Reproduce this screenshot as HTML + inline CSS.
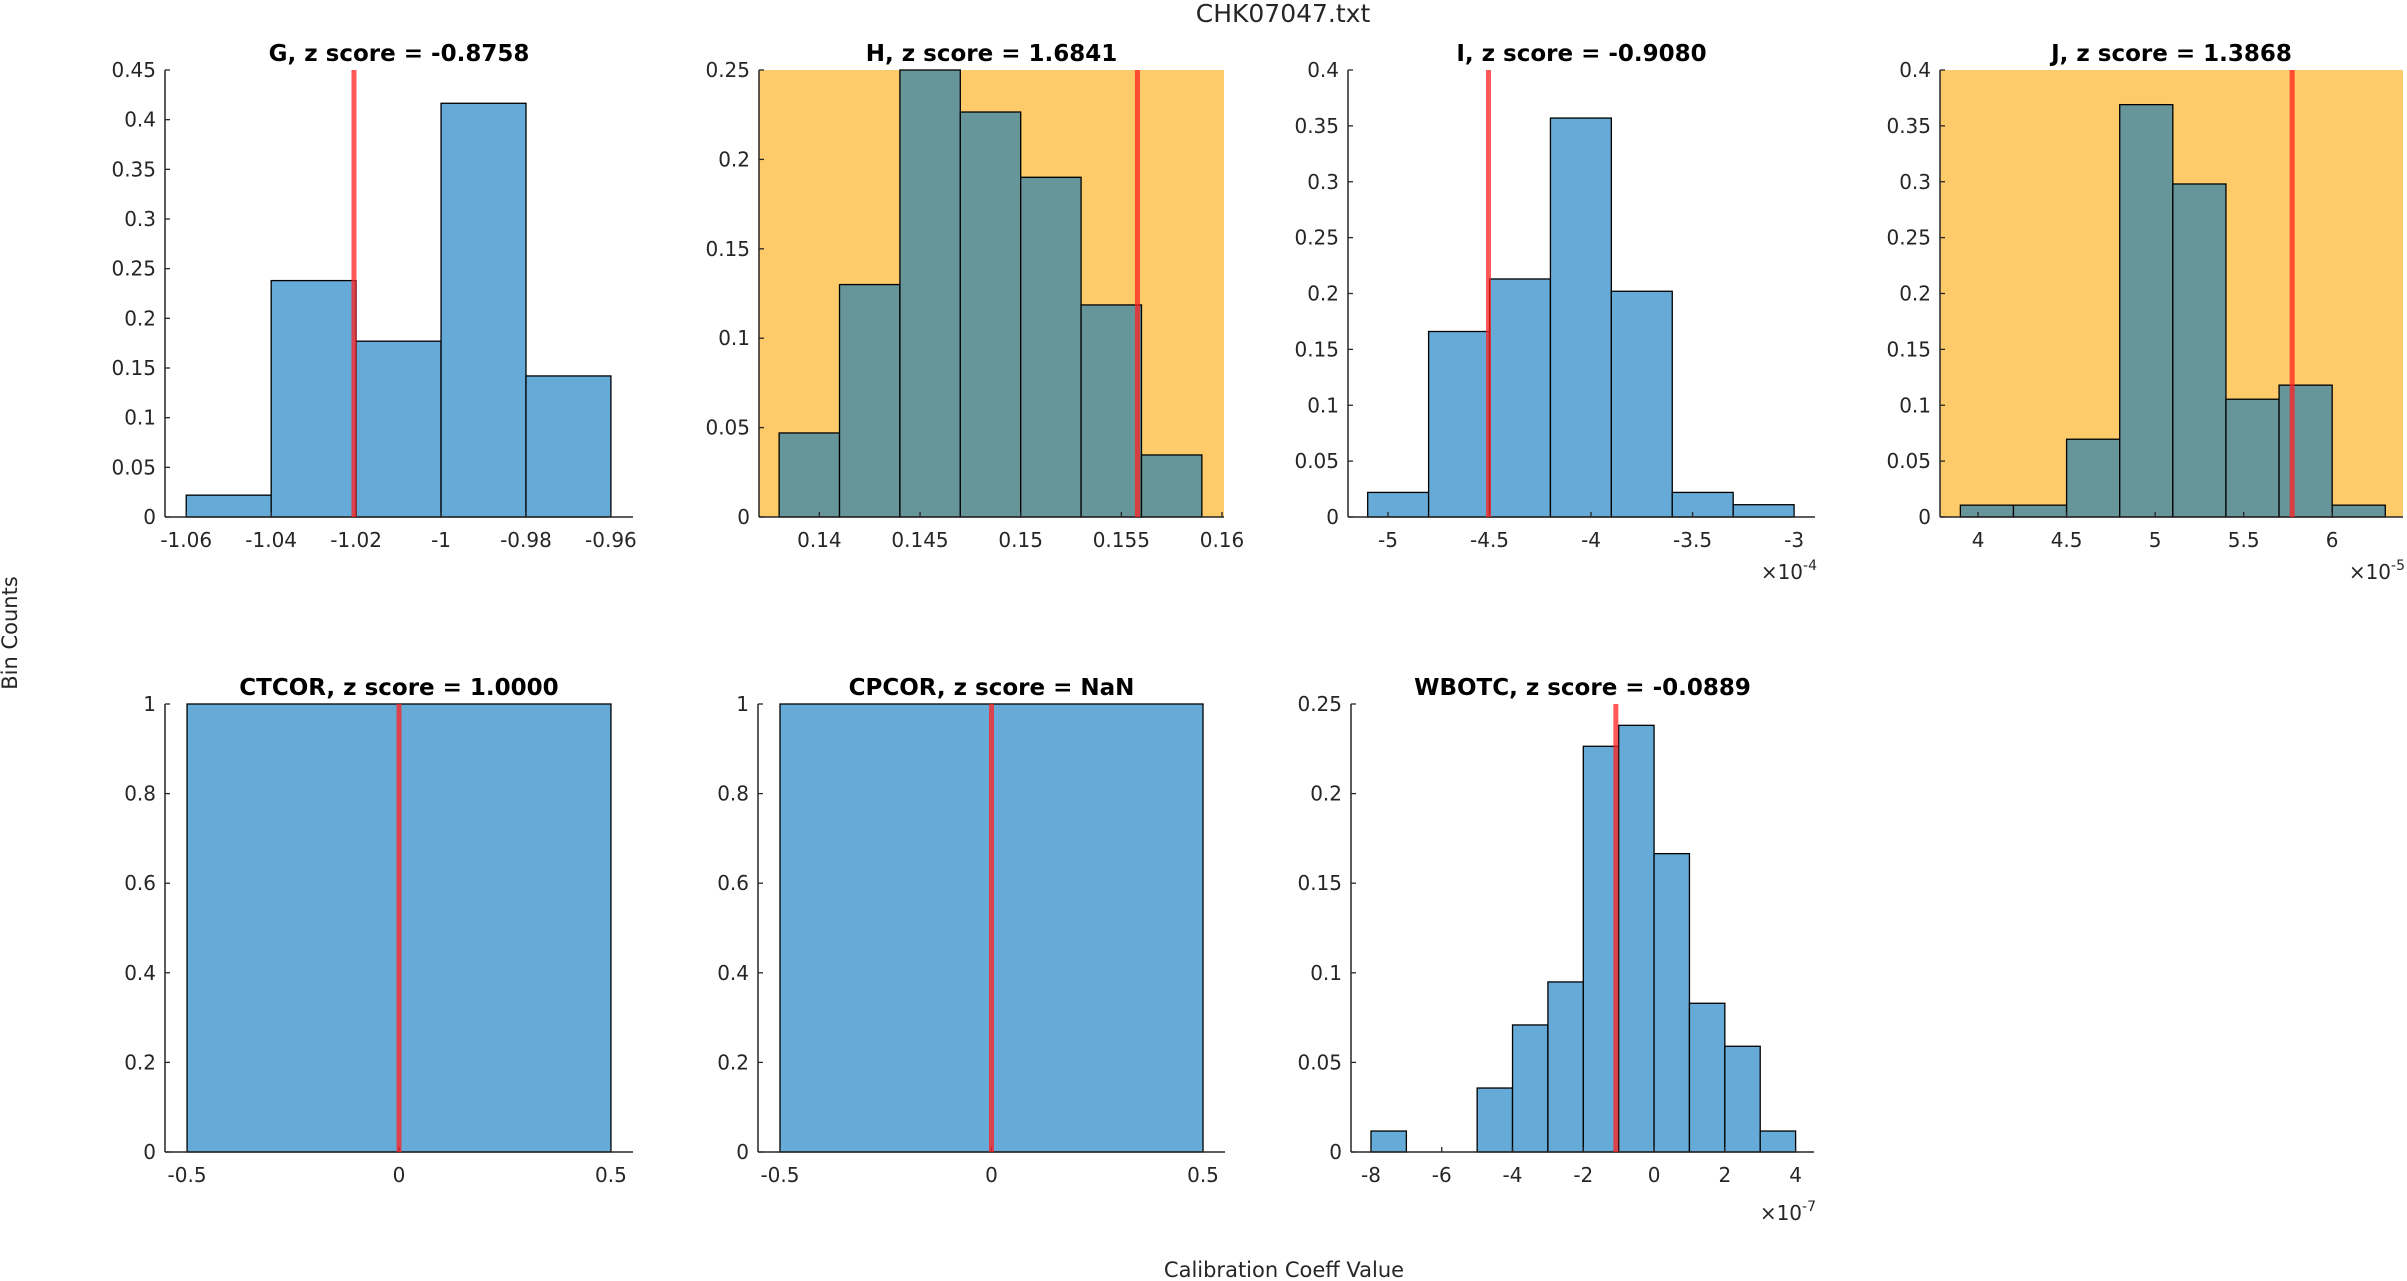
<!DOCTYPE html>
<html><head><meta charset="utf-8"><style>
html,body{margin:0;padding:0;background:#fff;}
svg{display:block;font-family:"DejaVu Sans","Liberation Sans",sans-serif;}
</style></head><body>
<svg id="fig" width="2407" height="1281" viewBox="0 0 2407 1281" xmlns="http://www.w3.org/2000/svg">
<text x="1283" y="22" font-size="25" fill="#262626" text-anchor="middle">CHK07047.txt</text>
<text x="0" y="0" font-size="21" fill="#262626" text-anchor="middle" transform="translate(17,633) rotate(-90)">Bin Counts</text>
<text x="1284" y="1277" font-size="21" fill="#262626" text-anchor="middle">Calibration Coeff Value</text>
</svg>
<script>
// ---- data ----
const gEdges = [-1.06,-1.04,-1.02,-1.00,-0.98,-0.96];
const gValues = [0.022,0.238,0.177,0.4165,0.142];
const gXTicks = [-1.06,-1.04,-1.02,-1,-0.98,-0.96];
const gXTickLabels = ["-1.06","-1.04","-1.02","-1","-0.98","-0.96"];
const gYTicks = [0,0.05,0.1,0.15,0.2,0.25,0.3,0.35,0.4,0.45];

const hEdges = [0.138,0.141,0.144,0.147,0.150,0.153,0.156,0.159];
const hValues = [0.047,0.130,0.25,0.2265,0.190,0.1186,0.0347];
const hXTicks = [0.14,0.145,0.15,0.155,0.16];
const hXTickLabels = ["0.14","0.145","0.15","0.155","0.16"];
const hYTicks = [0,0.05,0.1,0.15,0.2,0.25];

const iEdges = [-5.1,-4.8,-4.5,-4.2,-3.9,-3.6,-3.3,-3.0];
const iValues = [0.022,0.166,0.213,0.357,0.202,0.022,0.011];
const iXTicks = [-5,-4.5,-4,-3.5,-3];
const iXTickLabels = ["-5","-4.5","-4","-3.5","-3"];
const iYTicks = [0,0.05,0.1,0.15,0.2,0.25,0.3,0.35,0.4];

const jEdges = [3.9,4.2,4.5,4.8,5.1,5.4,5.7,6.0,6.3];
const jValues = [0.0106,0.0106,0.0696,0.369,0.298,0.1054,0.118,0.0106];
const jXTicks = [4,4.5,5,5.5,6];
const jXTickLabels = ["4","4.5","5","5.5","6"];
const jYTicks = [0,0.05,0.1,0.15,0.2,0.25,0.3,0.35,0.4];

const ctEdges = [-0.5,0.5];
const ctValues = [1];
const cpEdges = [-0.5,0.5];
const cpValues = [1];
const unitXTicks = [-0.5,0,0.5];
const unitXTickLabels = ["-0.5","0","0.5"];
const unitYTicks = [0,0.2,0.4,0.6,0.8,1];

const wEdges = [-8,-7,-6,-5,-4,-3,-2,-1,0,1,2,3,4];
const wValues = [0.0117,0,0,0.0357,0.0709,0.0949,0.2264,0.2381,0.1665,0.083,0.059,0.0117];
const wXTicks = [-8,-6,-4,-2,0,2,4];
const wXTickLabels = ["-8","-6","-4","-2","0","2","4"];
const wYTicks = [0,0.05,0.1,0.15,0.2,0.25];

const panels = [
 {id:"g",title:"G, z score = -0.8758",left:165,right:633,top:70,bottom:517,xmin:-1.065,xmax:-0.9548,ymax:0.45,edges:gEdges,values:gValues,xt:gXTicks,xl:gXTickLabels,yt:gYTicks,marker:-1.0205,flag:false,exp:null},
 {id:"h",title:"H, z score = 1.6841",left:759,right:1224,top:70,bottom:517,xmin:0.137,xmax:0.1601,ymax:0.25,edges:hEdges,values:hValues,xt:hXTicks,xl:hXTickLabels,yt:hYTicks,marker:0.1558,flag:true,exp:null},
 {id:"i",title:"I, z score = -0.9080",left:1348,right:1815,top:70,bottom:517,xmin:-5.197,xmax:-2.897,ymax:0.4,edges:iEdges,values:iValues,xt:iXTicks,xl:iXTickLabels,yt:iYTicks,marker:-4.505,flag:false,exp:"-4",expY:579},
 {id:"j",title:"J, z score = 1.3868",left:1940,right:2403,top:70,bottom:517,xmin:3.785,xmax:6.40,ymax:0.4,edges:jEdges,values:jValues,xt:jXTicks,xl:jXTickLabels,yt:jYTicks,marker:5.774,flag:true,exp:"-5",expY:579},
 {id:"ctcor",title:"CTCOR, z score = 1.0000",left:165,right:633,top:704,bottom:1152,xmin:-0.552,xmax:0.552,ymax:1,edges:ctEdges,values:ctValues,xt:unitXTicks,xl:unitXTickLabels,yt:unitYTicks,marker:0,flag:false,exp:null},
 {id:"cpcor",title:"CPCOR, z score = NaN",left:758,right:1225,top:704,bottom:1152,xmin:-0.552,xmax:0.552,ymax:1,edges:cpEdges,values:cpValues,xt:unitXTicks,xl:unitXTickLabels,yt:unitYTicks,marker:0,flag:false,exp:null},
 {id:"wbotc",title:"WBOTC, z score = -0.0889",left:1351,right:1814,top:704,bottom:1152,xmin:-8.565,xmax:4.52,ymax:0.25,edges:wEdges,values:wValues,xt:wXTicks,xl:wXTickLabels,yt:wYTicks,marker:-1.08,flag:false,exp:"-7",expY:1220}
];

const NS="http://www.w3.org/2000/svg";
const fig=document.getElementById('fig');
function mk(tag,attrs,parent){const e=document.createElementNS(NS,tag);for(const k in attrs)e.setAttribute(k,attrs[k]);(parent||fig).appendChild(e);return e;}
function fmtY(v){return String(Math.round(v*1000)/1000);}

panels.forEach(p=>{
  const g=mk('g',{});
  
  
  const sx=v=>p.left+(v-p.xmin)/(p.xmax-p.xmin)*(p.right-p.left);
  const sy=v=>p.bottom-v/p.ymax*(p.bottom-p.top);
  if(p.flag){
    const bg=mk('rect',{x:p.left,y:p.top,width:p.right-p.left,height:p.bottom-p.top,fill:'#fecb6a'},g);
    
    
  }
  const fill=p.flag?'#66969a':'#66aad7';
  p.values.forEach((v,k)=>{
    const x0=sx(p.edges[k]),x1=sx(p.edges[k+1]),y=sy(v);
    const r=mk('rect',{x:x0,y:y,width:x1-x0,height:p.bottom-y,fill:fill,stroke:'#000','stroke-width':1.3},g);
    
    
  });
  const ya=mk('line',{x1:p.left,y1:p.top,x2:p.left,y2:p.bottom,stroke:'#262626','stroke-width':1.5},g);
  
  
  const xa=mk('line',{x1:p.left,y1:p.bottom,x2:p.right,y2:p.bottom,stroke:'#262626','stroke-width':1.5},g);
  
  
  p.yt.forEach(t=>{
    const y=sy(t);
    mk('line',{x1:p.left,y1:y,x2:p.left+5,y2:y,stroke:'#262626','stroke-width':1.3},g);
    const tx=mk('text',{x:p.left-9,y:y+7,'font-size':20,fill:'#262626','text-anchor':'end'},g);
    tx.textContent=fmtY(t);
    
    
  });
  p.xt.forEach((t,k)=>{
    const x=sx(t);
    mk('line',{x1:x,y1:p.bottom,x2:x,y2:p.bottom-5,stroke:'#262626','stroke-width':1.3},g);
    const tx=mk('text',{x:x,y:p.bottom+30,'font-size':20,fill:'#262626','text-anchor':'middle'},g);
    tx.textContent=p.xl[k];
    
    
  });
  const m=mk('line',{x1:sx(p.marker),y1:p.top,x2:sx(p.marker),y2:p.bottom,stroke:'#ff2020','stroke-opacity':0.75,'stroke-width':5},g);
  
  
  const tt=mk('text',{x:(p.left+p.right)/2,y:p.top-9,'font-size':23,'font-weight':'bold',fill:'#000','text-anchor':'middle'},g);
  tt.textContent=p.title;
  
  
  if(p.exp){
    const ex=mk('text',{x:p.right+2,y:p.expY,'font-size':20,fill:'#262626','text-anchor':'end'},g);
    ex.innerHTML='×10<tspan dy="-9" font-size="14">'+p.exp+'</tspan>';
    
    
  }
});
</script>
</body></html>
